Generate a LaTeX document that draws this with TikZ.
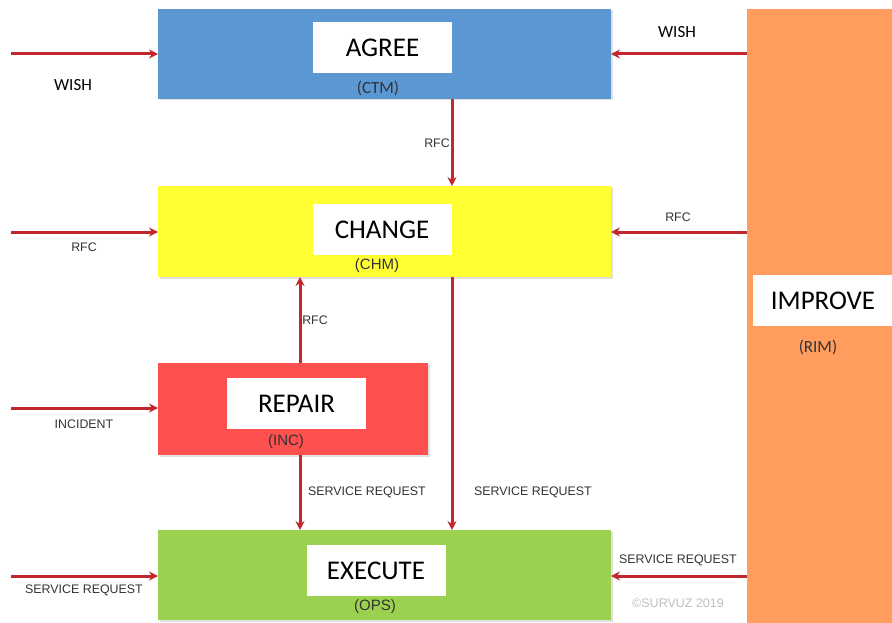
\documentclass[tikz,border=0pt]{standalone}
\usepackage{fontspec}
\setmainfont{Carlito}
\newfontfamily\arialf{Liberation Sans}
\usetikzlibrary{arrows.meta}
\definecolor{cblue}{HTML}{5B97D3}
\definecolor{cyellow}{HTML}{FFFF33}
\definecolor{cred}{HTML}{FF5050}
\definecolor{cgreen}{HTML}{9CD14F}
\definecolor{corange}{HTML}{FF9C5E}
\definecolor{carrow}{HTML}{C1272D}
\definecolor{ctext}{HTML}{333333}
\tikzset{
  procbox/.style={draw=none, minimum width=453pt, minimum height=90pt, inner sep=0pt, outer sep=0pt},
  shadowed/.style={preaction={fill=black!12, transform canvas={xshift=1.5pt,yshift=-1.5pt}}},
  labbox/.style={fill=white, minimum width=139pt, minimum height=51pt, inner sep=0pt, font=\fontsize{27}{30}\selectfont},
  codetxt/.style={font=\arialf\fontsize{15}{17}\selectfont, text=ctext, inner sep=0pt},
  codetxtc/.style={font=\fontsize{17}{19}\selectfont, text=ctext, inner sep=0pt},
  flowlab/.style={font=\arialf\fontsize{12.4}{14}\selectfont, text=ctext, inner sep=0pt},
  wishlab/.style={font=\fontsize{17}{19}\selectfont, text=black, inner sep=0pt},
  arr/.style={draw=carrow, line width=3pt, -{Stealth[length=9pt,width=9pt]}},
}
\begin{document}
\begin{tikzpicture}[x=1pt,y=-1pt]
\useasboundingbox (0,0) rectangle (892,623);
% boxes
\node[procbox, shadowed, fill=cblue] (agree) at (384.5,54) {};
\node[procbox, shadowed, fill=cyellow, minimum height=91pt] (change) at (384.5,231.5) {};
\node[procbox, shadowed, fill=cred, minimum width=270pt, minimum height=92pt] (repair) at (293,409) {};
\node[procbox, shadowed, fill=cgreen] (execute) at (384.5,575) {};
\node[procbox, fill=corange, minimum width=145pt, minimum height=614pt] (improve) at (819.5,316) {};
% white labels
\node[labbox] (agreeL) at (382.5,47.5) {AGREE};
\node[codetxtc] (agreeC) at (378,88) {(CTM)};
\node[labbox] (changeL) at (382,229.5) {CHANGE};
\node[codetxt] (changeC) at (377,266) {(CHM)};
\node[labbox] (repairL) at (296.5,403.5) {REPAIR};
\node[codetxt] (repairC) at (286,442) {(INC)};
\node[labbox] (executeL) at (376,570.5) {EXECUTE};
\node[codetxt] (executeC) at (375,607) {(OPS)};
\node[labbox, minimum width=140pt] (improveL) at (823,300.5) {IMPROVE};
\node[codetxtc] (improveC) at (818,347) {(RIM)};
% free ends
\coordinate (s1) at (11,54);
\coordinate (s2) at (11,232);
\coordinate (s3) at (11,408);
\coordinate (s4) at (11,576);
\coordinate (xa) at (452,0);
\coordinate (xb) at (300,0);
% left inputs
\draw[arr] (s1) -- (s1 -| agree.west);
\draw[arr] (s2) -- (s2 -| change.west);
\draw[arr] (s3) -- (s3 -| repair.west);
\draw[arr] (s4) -- (s4 -| execute.west);
% from improve
\draw[arr] (agree.east -| improve.west) -- (agree.east);
\draw[arr] (s2 -| improve.west) -- (s2 -| change.east);
\draw[arr] (s4 -| improve.west) -- (s4 -| execute.east);
% verticals
\draw[arr] (agree.south -| xa) -- (change.north -| xa);
\draw[arr] (change.south -| xa) -- (execute.north -| xa);
\draw[arr] (repair.north -| xb) -- (change.south -| xb);
\draw[arr] (repair.south -| xb) -- (execute.north -| xb);
% labels
\node[wishlab] (l1) at (73,85) {WISH};
\node[wishlab] (l2) at (677,32) {WISH};
\node[flowlab] (l3) at (437,143) {RFC};
\node[flowlab] (l4) at (84,247) {RFC};
\node[flowlab] (l5) at (678,217) {RFC};
\node[flowlab] (l6) at (315,320) {RFC};
\node[flowlab] (l7) at (84,424) {INCIDENT};
\node[flowlab] (l8) at (367,492) {SERVICE REQUEST};
\node[flowlab] (l9) at (533,492) {SERVICE REQUEST};
\node[flowlab] (l10) at (84,590) {SERVICE REQUEST};
\node[flowlab] (l11) at (678,560) {SERVICE REQUEST};
\node[font=\arialf\fontsize{12.5}{14}\selectfont, text=black!25, inner sep=0pt] (copy) at (678,603) {©SURVUZ 2019};
\end{tikzpicture}
\end{document}
